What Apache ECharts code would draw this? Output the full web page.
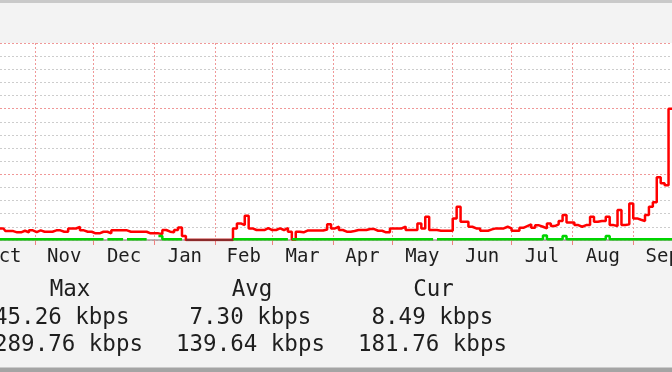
<!DOCTYPE html>
<html>
<head>
<meta charset="utf-8">
<script src="https://cdn.jsdelivr.net/npm/echarts@6/dist/echarts.min.js"></script>
<style>
html,body{margin:0;padding:0;background:#f3f3f3;}
#c{width:672px;height:372px;}
</style>
</head>
<body>
<div id="c"></div>
<script>
// ---- data ----
const firstSample = [2015, 9, 14];   // Oct 14 2015, one sample every 2 days
const sampleStepDays = 2;
// outbound traffic (red), kbps
const outValues = [
  177,177,136,136,117,117,141,115,147,121,
  147,126,126,126,147,147,126,126,175,175,
  200,147,126,126,101,101,126,126,101,147,
  147,147,147,126,126,126,126,126,101,101,
  101,91,152,126,117,152,192,60,0,0,
  0,0,0,0,0,0,0,0,0,0,
  177,253,227,368,177,152,152,152,182,152,
  152,177,152,182,126,8,126,117,144,144,
  144,144,144,160,238,177,202,152,126,126,
  136,152,152,152,167,167,141,141,117,117,
  177,177,177,205,152,152,152,253,177,353,
  152,152,141,141,141,141,329,505,277,277,
  202,177,177,141,141,162,177,177,177,202,
  177,141,141,186,212,238,186,223,202,177,
  253,212,238,288,379,268,268,227,202,227,
  227,353,277,288,288,353,227,212,455,227,
  238,556,329,308,288,379,505,576,955,864,
  833,2000,2000
];
// inbound traffic (green), kbps; null = no data
const inValues = [
  12,12,13,12,12,11,12,12,13,12,
  12,12,12,13,12,12,12,12,12,12,
  13,12,12,12,12,12,12,null,12,12,
  12,12,null,12,12,12,12,12,null,null,
  null,60,12,12,12,12,12,null,null,null,
  null,null,null,null,null,null,null,null,null,null,
  12,12,12,12,12,12,12,12,12,12,
  12,12,12,12,null,12,12,12,12,12,
  12,12,12,12,12,12,12,12,12,12,
  12,12,12,12,12,12,12,12,12,12,
  12,12,12,12,12,12,12,12,12,12,
  12,null,12,12,12,12,12,12,12,12,
  12,12,12,12,12,12,12,12,12,12,
  12,12,12,12,12,12,12,12,12,70,
  12,12,12,12,60,12,12,12,12,12,
  12,12,12,12,12,60,12,12,12,12,
  12,12,12,12,12,12,12,12,12,12,
  12,12,12
];
const monthNames = ['Jan','Feb','Mar','Apr','May','Jun','Jul','Aug','Sep','Oct','Nov','Dec'];
const monthStarts = ['2015-10-01','2015-11-01','2015-12-01','2016-01-01','2016-02-01','2016-03-01',
  '2016-04-01','2016-05-01','2016-06-01','2016-07-01','2016-08-01','2016-09-01','2016-10-01'];
const yTicks = [0, 3000, 200]; // min, max, step (kbps)
const legendHeaders = ['Max', 'Avg', 'Cur'];
const inStats = ['45.26 kbps', '7.30 kbps', '8.49 kbps'];
const outStats = ['289.76 kbps', '139.64 kbps', '181.76 kbps'];

// ---- build ----
function ts(s){ const p = s.split('-').map(Number); return new Date(p[0], p[1]-1, p[2]).getTime(); }
function sampleTime(i){ return new Date(firstSample[0], firstSample[1], firstSample[2] + sampleStepDays*i).getTime(); }
const outData = outValues.map((v,i)=>[sampleTime(i), v]);
// the zero-valued stretch lies on the axis and shows darker
const outZeroData = outValues.map((v,i)=>[sampleTime(i), v === 0 ? v : null]);
const inData = inValues.map((v,i)=>[sampleTime(i), v]);
const tickVals = monthStarts.map(ts);
const labelVals = [];
for (let i = 0; i + 1 < tickVals.length; i++) labelVals.push((tickVals[i] + tickVals[i+1]) / 2);

const xMin = new Date(2015, 9, 14, 6, 14).getTime();
const xMax = new Date(2016, 8, 20, 18, 14).getTime();

const mono = 'DejaVu Sans Mono';
const gridMinor = '#cdcdcd';
const gridMajor = '#f09898';

const graphic = [
  {type:'rect', shape:{x:0,y:0,width:672,height:3}, style:{fill:'#c9c9c9'}, silent:true},
  {type:'rect', shape:{x:0,y:367.5,width:672,height:4.5}, style:{fill:'#a4a4a4'}, silent:true}
];
const headerX = [70, 252, 433.5];
const row1X = [-6, 189.5, 371.5];
const row2X = [-6, 176, 358];
const legendFont = '22.5px "' + mono + '"';
legendHeaders.forEach((t,i)=>graphic.push({type:'text', x:headerX[i], y:290.5,
  style:{text:t, fill:'#1e1e1e', font:legendFont, align:'center', verticalAlign:'middle'}}));
inStats.forEach((t,i)=>graphic.push({type:'text', x:row1X[i], y:318,
  style:{text:t, fill:'#1e1e1e', font:legendFont, align:'left', verticalAlign:'middle'}}));
outStats.forEach((t,i)=>graphic.push({type:'text', x:row2X[i], y:345,
  style:{text:t, fill:'#1e1e1e', font:legendFont, align:'left', verticalAlign:'middle'}}));

const chart = echarts.init(document.getElementById('c'), null, {renderer:'canvas'});
chart.setOption({
  animation: false,
  backgroundColor: '#f3f3f3',
  grid: {left:0, right:0, top:43, bottom:132, show:true, backgroundColor:'#ffffff', borderWidth:0,
    containLabel:false, outerBoundsMode:'none'},
  xAxis: {
    type:'value', min:xMin, max:xMax,
    axisLine:{show:true, lineStyle:{color:'#a0a0a0', width:1.5}},
    axisTick:{show:true, customValues:tickVals, length:5, lineStyle:{color:'#f08080', width:1}},
    axisLabel:{show:true, customValues:labelVals, margin:17, verticalAlign:'middle', align:'center',
      color:'#1e1e1e', fontFamily:mono, fontSize:19,
      formatter:(v)=>monthNames[new Date(v).getMonth()]},
    splitLine:{show:true, lineStyle:{color:gridMajor, width:1, type:[2,2]}}
  },
  yAxis: {
    type:'value', min:yTicks[0], max:yTicks[1], interval:yTicks[2],
    axisLine:{show:false}, axisTick:{show:false}, axisLabel:{show:false},
    splitLine:{show:true, lineStyle:{color:[gridMajor, gridMinor, gridMinor, gridMinor, gridMinor], width:1, type:[2,2]}}
  },
  series: [
    {type:'line', step:'middle', data:outData, symbol:'none', showSymbol:false,
      lineStyle:{width:2.5, color:'#ff0000'}, itemStyle:{color:'#ff0000'}, z:3},
    {type:'line', step:'middle', data:outZeroData, symbol:'none', showSymbol:false, connectNulls:false,
      lineStyle:{width:2.5, color:'#8b2a2a'}, itemStyle:{color:'#8b2a2a'}, z:3},
    {type:'line', step:'middle', data:inData, symbol:'none', showSymbol:false, connectNulls:false,
      lineStyle:{width:2.5, color:'#00d400'}, itemStyle:{color:'#00d400'}, z:4}
  ],
  graphic: graphic
});
</script>
</body>
</html>
